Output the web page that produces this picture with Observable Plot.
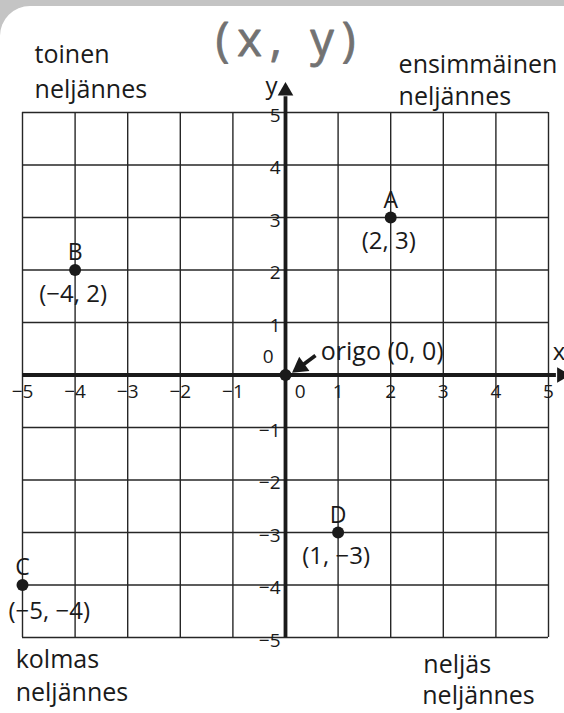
<!DOCTYPE html>
<html>
<head>
<meta charset="utf-8">
<script src="https://cdn.jsdelivr.net/npm/d3@7"></script>
<script src="https://cdn.jsdelivr.net/npm/@observablehq/plot@0.6"></script>
<style>
  html, body { margin: 0; padding: 0; }
  body { position: relative; width: 564px; height: 713px; background: #c4c4c4; overflow: hidden; }
  #panel { position: absolute; left: 0; top: 6px; width: 564px; height: 707px;
           background: #fff; border-top-left-radius: 30px; }
  #chart { position: absolute; left: 0; top: 0; }
  svg { display: block; overflow: visible; }
</style>
</head>
<body>
<div id="panel"></div>
<div id="chart"></div>
<script>
// Coordinate plane: grid from −5 to 5, four named points and the origin
const tickValues = [-5, -4, -3, -2, -1, 1, 2, 3, 4, 5];
const gridValues = [-5, -4, -3, -2, -1, 0, 1, 2, 3, 4, 5];

const pointNames = ["A", "B", "C", "D"];
const pointX = [2, -4, -5, 1];
const pointY = [3, 2, -4, -3];

// quadrant names, two lines each: II, I, III, IV
const quadrantLines = [
  ["toinen", "neljännes"],
  ["ensimmäinen", "neljännes"],
  ["kolmas", "neljännes"],
  ["neljäs", "neljännes"]
];
const titleText = "(x, y)";
const originText = "origo (0, 0)";

const minus = v => String(v).replace("-", "\u2212");
const points = pointNames.map((name, i) => ({
  name, x: pointX[i], y: pointY[i],
  label: `(${minus(pointX[i])}, ${minus(pointY[i])})`
}));

const FONT = "Open Sans, Noto Sans, sans-serif";
const ink = "#1a1a1a";

// helper for one line of a quadrant name
const line = (q, k, x, y) => Plot.text([quadrantLines[q][k]], {
  x, y, text: d => d, textAnchor: "start", fontSize: 25, fill: ink
});

const chart = Plot.plot({
  width: 564,
  height: 713,
  marginLeft: 22,
  marginRight: 16,
  marginTop: 112,
  marginBottom: 76,
  x: {domain: [-5, 5], axis: null},
  y: {domain: [-5, 5], axis: null},
  style: {fontFamily: FONT, background: "transparent", color: ink},
  marks: [
    // grid
    Plot.ruleX(gridValues, {x: d => d, y1: -5, y2: 5, stroke: "#262626", strokeWidth: 1.4}),
    Plot.ruleY(gridValues, {y: d => d, x1: -5, x2: 5, stroke: "#262626", strokeWidth: 1.4}),
    // axes with arrowheads
    Plot.ruleX([0], {y1: -5, y2: 5.3, stroke: ink, strokeWidth: 3.8}),
    Plot.ruleY([0], {x1: -5, x2: 5.15, stroke: ink, strokeWidth: 3.8}),
    Plot.dot([0], {x: 0, y: 5.41, symbol: "triangle", r: 5.8, fill: ink, stroke: null}),
    Plot.dot([0], {x: 5.25, y: 0, symbol: "triangle", r: 5.8, fill: ink, stroke: null, rotate: 90}),
    Plot.text(["y"], {x: 0, y: 5.5, text: d => d, textAnchor: "end", dx: -8, fontSize: 24, fill: ink}),
    Plot.text(["x"], {x: 5.2, y: 0.43, text: d => d, fontSize: 24, fill: ink}),
    // tick labels
    Plot.text(tickValues, {x: 0, y: d => d, text: minus, textAnchor: "end", dx: -5, dy: 3, fontSize: 19, fill: ink}),
    Plot.text(tickValues, {x: d => d, y: 0, text: minus, dy: 17, fontSize: 19, fill: ink}),
    Plot.text(["0"], {x: -0.33, y: 0.35, text: d => d, fontSize: 19, fill: ink}),
    Plot.text(["0"], {x: 0.28, y: -0.33, text: d => d, fontSize: 19, fill: ink}),
    // origin
    Plot.dot([0], {x: 0, y: 0, r: 6, fill: ink}),
    Plot.link([0], {x1: 0.57, y1: 0.37, x2: 0.34, y2: 0.2, stroke: ink, strokeWidth: 3.8}),
    Plot.dot([0], {x: 0.28, y: 0.155, symbol: "triangle", r: 6.5, fill: ink, stroke: null, rotate: -126}),
    Plot.text([originText], {x: 0.67, y: 0.43, text: d => d, textAnchor: "start", fontSize: 25, fill: ink}),
    // points
    Plot.dot(points, {x: "x", y: "y", r: 6, fill: ink}),
    Plot.text(points, {x: "x", y: "y", text: "name", dy: -17, fontSize: 23, fill: ink}),
    Plot.text(points.filter(d => d.x > -5), {x: "x", y: "y", text: "label", dx: -2, dy: 24, fontSize: 24, fill: ink}),
    Plot.text(points.filter(d => d.x <= -5), {x: "x", y: "y", text: "label", textAnchor: "start", dx: -14, dy: 26, fontSize: 24, fill: ink}),
    // quadrant names
    line(0, 0, -4.77, 6.09), line(0, 1, -4.77, 5.42),
    line(1, 0, 2.15, 5.91), line(1, 1, 2.15, 5.29),
    line(2, 0, -5.13, -5.42), line(2, 1, -5.13, -6.05),
    line(3, 0, 2.62, -5.53), line(3, 1, 2.6, -6.12),
    // hand-lettered heading
    Plot.text([titleText], {x: 0, y: 6.37, dx: 4, text: d => d, fontSize: 47, fill: "#727272",
      stroke: "#727272", strokeWidth: 0.8})
  ]
});
// widen the hand-lettered heading
d3.select(chart).selectAll("text").filter(function() { return this.textContent === titleText; })
  .style("letter-spacing", "8px");
document.getElementById("chart").appendChild(chart);
</script>
</body>
</html>
